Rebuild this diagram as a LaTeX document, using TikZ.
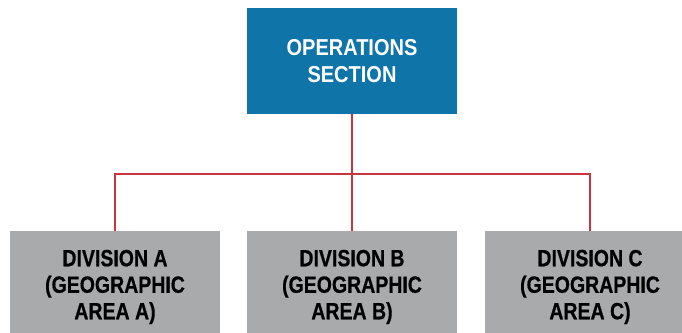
\documentclass[tikz,border=0pt]{standalone}
\usepackage{fontspec}
\setmainfont{Liberation Sans}[FakeStretch=0.87]
\newfontfamily\divfont{Liberation Sans}[FakeStretch=0.83,FakeBold=0.6]
\definecolor{opsblue}{HTML}{0F74A8}
\definecolor{divgrey}{HTML}{A9AAAC}
\definecolor{linkred}{HTML}{C8343F}
\tikzset{
  section/.style={rectangle,fill=opsblue,text=white,minimum width=210pt,minimum height=106pt,inner sep=0,align=center,font=\bfseries\fontsize{23}{27}\selectfont},
  division/.style={rectangle,fill=divgrey,text=black,minimum width=210pt,minimum height=112pt,inner sep=0,align=center,font=\divfont\bfseries\fontsize{23.5}{26.5}\selectfont},
  link/.style={linkred,line width=2.2pt}
}
\begin{document}
\begin{tikzpicture}[x=1pt,y=-1pt]
  \useasboundingbox (0,0) rectangle (682,332);
  \clip (0,0) rectangle (682,332);
  \node [section] (ops) at (352,61) {OPERATIONS\\SECTION};
  \foreach \i/\x in {A/115,B/352,C/590}{
    \node [division] (div\i) at (\x,287) {DIVISION \i\\(GEOGRAPHIC\\AREA \i)};
  }
  \coordinate (bus) at (352,174);
  \draw[link] (ops.south) -- (bus) -- (divB.north);
  \draw[link] (divA.north) |- (bus) -| (divC.north);
\end{tikzpicture}
\end{document}
